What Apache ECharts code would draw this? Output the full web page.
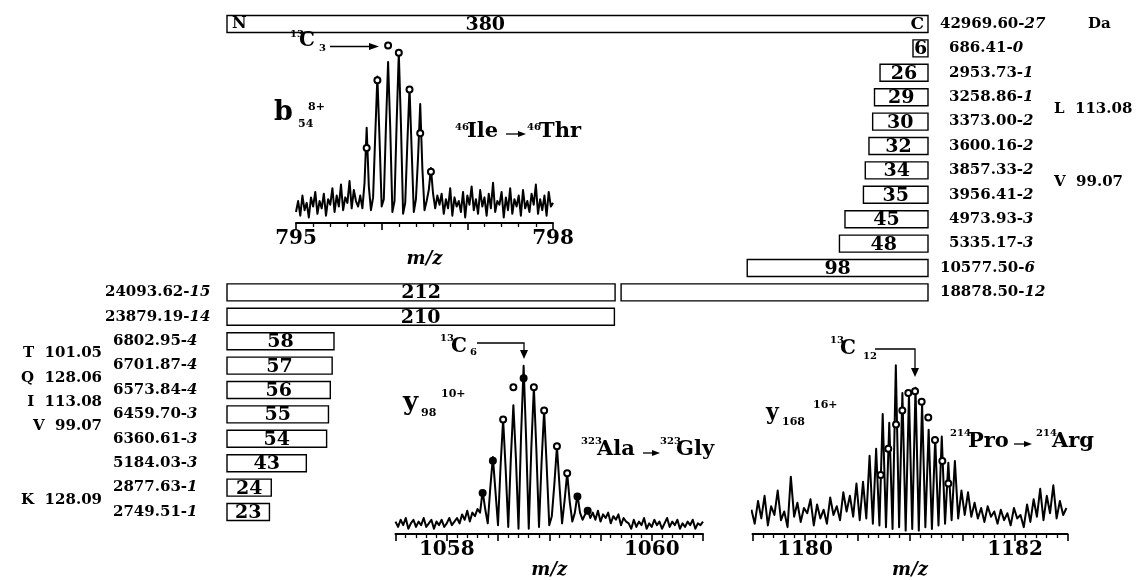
<!DOCTYPE html>
<html>
<head>
<meta charset="utf-8">
<title>fragment map</title>
<script src="https://cdn.jsdelivr.net/npm/echarts@6/dist/echarts.min.js"></script>
<style>
  body { margin: 0; background: #fff; }
  #main { width: 1145px; height: 580px; }
</style>
</head>
<body>
<div id="main"></div>
<script>
// ---- fragment map (residue counts from N- or C-terminus) ----
const totalResidues = 380
const fragLength = [380, 6, 26, 29, 30, 32, 34, 35, 45, 48, 98, 212, 168, 210, 58, 57, 56, 55, 54, 43, 24, 23]
const fragRow    = [0, 1, 2, 3, 4, 5, 6, 7, 8, 9, 10, 11, 11, 12, 13, 14, 15, 16, 17, 18, 19, 20]
const fragTerm   = ['NC', 'C', 'C', 'C', 'C', 'C', 'C', 'C', 'C', 'C', 'C', 'N', 'C', 'N', 'N', 'N', 'N', 'N', 'N', 'N', 'N', 'N']
const fragLabel  = ['380', '6', '26', '29', '30', '32', '34', '35', '45', '48', '98', '212', '', '210', '58', '57', '56', '55', '54', '43', '24', '23']
const fragMass   = ['42969.60', '686.41', '2953.73', '3258.86', '3373.00', '3600.16', '3857.33', '3956.41', '4973.93', '5335.17',
                    '10577.50', '24093.62', '18878.50', '23879.19', '6802.95', '6701.87', '6573.84', '6459.70', '6360.61', '5184.03', '2877.63', '2749.51']
const fragMiss   = ['27', '0', '1', '1', '2', '2', '2', '2', '3', '3', '6', '15', '12', '14', '4', '4', '4', '3', '3', '3', '1', '1']

// residue mass differences between neighbouring fragments
const diffText = ['L  113.08', 'V  99.07', 'T  101.05', 'Q  128.06', 'I  113.08', 'V  99.07', 'K  128.09']
const diffSide = ['C', 'C', 'N', 'N', 'N', 'N', 'N']
const diffRow  = [3.5, 6.5, 13.5, 14.5, 15.5, 16.5, 19.5]

// ---- b54 8+ spectrum ----
const b54Start = 795, b54Step = 0.025
const b54Int = [
  6, 12, 4, 15, 7, 11, 3, 14, 9, 17, 5, 12, 8, 16, 4, 13, 10, 19, 6, 15, 9, 21, 7, 14, 11, 23, 8, 18, 12,
  9, 15, 8, 22, 52, 20, 7, 14, 48, 80, 46, 9, 13, 53, 88, 52, 6, 12, 55, 93, 54, 5, 11, 44, 74, 40, 6, 13, 36, 65, 30, 7, 12, 18, 30, 16, 8, 15, 10,
  16, 5, 13, 8, 19, 4, 14, 9, 12, 6, 17, 3, 15, 10, 20, 7, 13, 5, 18, 9, 14, 4, 16, 8, 22, 6, 12, 10, 17, 3, 14, 7, 19, 5, 13, 9, 15, 4, 18, 8, 12, 6, 16, 10, 21, 5, 13, 7, 15, 4, 17, 9, 11
]
const b54IsoMz  = [795.825, 795.95, 796.075, 796.2, 796.325, 796.45, 796.575]
const b54IsoInt = [41, 78, 97, 93, 73, 49, 28]
const b54Ticks  = [795, 798]

// ---- y98 10+ spectrum ----
const y98Start = 1057.5, y98Step = 0.025
const y98Int = [
  7, 4, 8, 5, 9, 3, 6, 8, 4, 7, 5, 9, 4, 6, 8, 3, 7, 5, 8, 4, 6, 9, 5, 7,
  9, 6, 11, 8, 13, 7, 12, 10, 14,
  12, 24, 14, 6, 26, 43, 24, 5, 38, 64, 36, 4, 42, 72, 42, 3, 55, 94, 52, 3, 48, 82, 46, 4, 40, 69, 38, 5, 10, 28, 49, 27, 6, 19, 34, 18, 7, 12, 22, 12, 8, 11, 14, 9,
  12, 8, 13, 7, 11, 9, 12, 6, 10, 8, 11, 5, 9, 7,
  6, 3, 8, 4, 7, 5, 9, 3, 6, 4, 8, 5, 7, 3, 6, 9, 4, 7, 5, 8, 3, 6, 4, 7, 5, 8, 3, 6, 5, 7
]
const y98IsoMz   = [1058.35, 1058.45, 1058.55, 1058.65, 1058.75, 1058.85, 1058.95, 1059.075, 1059.175, 1059.275, 1059.375]
const y98IsoInt  = [23, 41, 64, 82, 87, 82, 69, 49, 34, 21, 13]
const y98IsoFill = [1, 1, 0, 0, 1, 0, 0, 0, 0, 1, 1]
const y98Ticks   = [1058, 1060]

// ---- y168 16+ spectrum ----
const y168Start = 1179.49, y168Step = 0.03125
const y168Int = [
  14, 6, 19, 9, 22, 5, 16, 11, 25, 8, 13, 4, 33, 10, 18, 7, 15, 12, 20, 5, 17, 9, 14, 6, 21, 11, 16, 8, 24, 13,
  22, 10, 29, 8, 30, 9, 45, 6, 49, 5, 69, 4, 64, 3, 97, 4, 81, 2, 80, 3, 84, 2, 75, 4, 60, 3, 55, 5, 56, 6, 41, 8, 42, 9, 25, 11, 24, 10,
  18, 9, 15, 7, 16, 10, 13, 6, 14, 8, 12, 5, 15, 9, 11, 4, 17, 7, 20, 10, 26, 8, 22, 12, 28, 9, 19, 11, 15
]
const y168IsoMz  = [1180.721, 1180.793, 1180.867, 1180.927, 1180.984, 1181.048, 1181.111, 1181.174, 1181.238, 1181.308, 1181.365]
const y168IsoInt = [34, 49, 63, 71, 81, 82, 76, 67, 54, 42, 29]
const y168Ticks  = [1180, 1182]

const FONT = 'DejaVu Serif'

function label(x, y, text, size, align, extra) {
  return {
    type: 'text', x: x, y: y, z: 100, silent: true,
    style: Object.assign({
      text: text, fill: '#000', fontFamily: FONT, fontWeight: 'bold', fontSize: size,
      align: align || 'left', verticalAlign: 'middle'
    }, extra || {})
  }
}
function stroke(points) {
  return { type: 'polyline', z: 100, silent: true, shape: { points: points }, style: { stroke: '#000', lineWidth: 1.3, fill: null } }
}
function head(points) {
  return { type: 'polygon', z: 100, silent: true, shape: { points: points }, style: { fill: '#000' } }
}

const sharedRows = new Set(fragRow.filter((r, i) => fragRow.indexOf(r) !== i))

function renderFragment(params, api) {
  const i = params.dataIndex
  const len = api.value(0), row = api.value(1), term = fragTerm[i]
  const start = term === 'C' ? totalResidues - len : 0
  const a = api.coord([start, row]), b = api.coord([start + len, row])
  let x0 = a[0], x1 = b[0]
  const y = a[1], h = 17
  if (x1 - x0 < 15) x0 = x1 - 15   // smallest box still holds its number
  if (sharedRows.has(row)) { if (term === 'N') x1 -= 3; else x0 += 3 }

  const kids = [{
    type: 'rect', shape: { x: x0, y: y - h / 2, width: x1 - x0, height: h },
    style: { fill: '#fff', stroke: '#000', lineWidth: 1.4 }
  }]
  let lx = (x0 + x1) / 2
  if (term === 'NC') lx = api.coord([140, row])[0]
  if (fragLabel[i]) kids.push(label(lx, y + 1, fragLabel[i], 19, 'center'))
  if (term === 'NC') {
    kids.push(label(x0 + 5, y, 'N', 16, 'left'))
    kids.push(label(x1 - 4, y + 1, 'C', 17, 'right'))
  }

  // mass and missed cleavages
  const big = parseFloat(fragMass[i]) >= 10000
  const mx = term === 'N' ? x0 - 114 - (big ? 8 : 0) : x1 + 12 + (big ? 0 : 9)
  kids.push({
    type: 'text', x: mx, y: y, silent: true,
    style: {
      text: '{m|' + fragMass[i] + '-}{i|' + fragMiss[i] + '}',
      align: 'left', verticalAlign: 'middle',
      rich: {
        m: { fontFamily: FONT, fontWeight: 'bold', fontSize: 15, fill: '#000' },
        i: { fontFamily: FONT, fontWeight: 'bold', fontStyle: 'italic', fontSize: 15, fill: '#000' }
      }
    }
  })
  if (term === 'NC') kids.push(label(x1 + 160, y, 'Da', 15, 'left'))
  return { type: 'group', children: kids }
}

function renderDiff(params, api) {
  const i = params.dataIndex
  const y = api.coord([0, api.value(1)])[1]
  const left = diffSide[i] === 'N'
  const x = left ? api.coord([0, 0])[0] - 125 : api.coord([totalResidues, 0])[0] + 126
  return label(x, y, diffText[i], 15, left ? 'right' : 'left')
}

function specX(grid, min, max, interval, shown, nameGap) {
  return {
    gridIndex: grid, type: 'value', min: min, max: max, interval: interval,
    axisLine: { onZero: false, lineStyle: { color: '#000', width: 2 } },
    axisTick: { length: 7, lineStyle: { color: '#000', width: 1.6 } },
    minorTick: { show: true, splitNumber: 5, length: 4, lineStyle: { color: '#000', width: 1.3 } },
    splitLine: { show: false }, minorSplitLine: { show: false },
    axisLabel: {
      margin: 6, color: '#000', fontFamily: FONT, fontWeight: 'bold', fontSize: 20,
      showMinLabel: true, showMaxLabel: true,
      formatter: v => shown.some(s => Math.abs(s - v) < 1e-6) ? String(Math.round(v)) : ''
    },
    name: 'm/z', nameLocation: 'middle', nameGap: nameGap,
    nameTextStyle: { color: '#000', fontFamily: FONT, fontWeight: 'bold', fontStyle: 'italic', fontSize: 18 }
  }
}
function specY(grid) {
  return { gridIndex: grid, type: 'value', min: 0, max: 100, show: false }
}
function specLine(grid, start, step, values) {
  return {
    type: 'line', xAxisIndex: grid, yAxisIndex: grid, symbol: 'none',
    data: values.map((v, i) => [start + i * step, v]),
    lineStyle: { color: '#000', width: 2, join: 'round' }, z: 2
  }
}
function isoMarks(grid, mz, inten, filled) {
  return {
    type: 'scatter', xAxisIndex: grid, yAxisIndex: grid, symbolSize: 6, z: 3,
    data: mz.map((m, i) => ({ value: [m, inten[i]], symbol: filled && filled[i] ? 'circle' : 'emptyCircle' })),
    itemStyle: { color: '#000', borderColor: '#000', borderWidth: 2, opacity: 1 }
  }
}

const notes = [
  // b54 8+
  label(290, 34, '13', 10), label(299, 41, 'C', 20), label(319, 48, '3', 10),
  stroke([[330, 46.5], [372, 46.5]]), head([[369, 43], [379, 46.5], [369, 50]]),
  label(274, 113, 'b', 27), label(298, 124, '54', 11), label(308, 107, '8+', 11),
  label(455, 127, '46', 10), label(467, 132, 'Ile', 21),
  stroke([[506, 134], [520, 134]]), head([[518, 131], [526, 134], [518, 137]]),
  label(527, 127, '46', 10), label(539, 132, 'Thr', 21),
  // y98 10+
  label(440, 338, '13', 10), label(451, 347, 'C', 20), label(470, 352, '6', 10),
  stroke([[477, 343], [524, 343], [524, 352]]), head([[520, 350], [524, 359], [528, 350]]),
  label(403, 403, 'y', 26), label(421, 413, '98', 11), label(441, 394, '10+', 11),
  label(581, 441, '323', 10), label(597, 450, 'Ala', 21),
  stroke([[643, 453], [654, 453]]), head([[652, 450], [660, 453], [652, 456]]),
  label(660, 441, '323', 10), label(676, 450, 'Gly', 21),
  // y168 16+
  label(830, 340, '13', 10), label(840, 349, 'C', 20), label(863, 356, '12', 10),
  stroke([[875, 349], [915, 349], [915, 369]]), head([[911, 368], [915, 377], [919, 368]]),
  label(766, 413, 'y', 22), label(782, 422, '168', 11), label(813, 405, '16+', 11),
  label(950, 433, '214', 10), label(968, 442, 'Pro', 21),
  stroke([[1014, 444], [1026, 444]]), head([[1024, 441], [1032, 444], [1024, 447]]),
  label(1036, 433, '214', 10), label(1052, 442, 'Arg', 21)
]

const chart = echarts.init(document.getElementById('main'))
chart.setOption({
  backgroundColor: '#fff',
  animation: false,
  grid: [
    { left: 227, top: 24, width: 701, height: 488 },
    { left: 296, top: 40, width: 257, height: 183 },
    { left: 395.5, top: 355, width: 307.5, height: 182 },
    { left: 752.5, top: 360, width: 315, height: 181 }
  ],
  xAxis: [
    { gridIndex: 0, type: 'value', min: 0, max: totalResidues, show: false },
    specX(1, 795, 798, 1, b54Ticks, 20),
    specX(2, 1057.5, 1060.5, 0.5, y98Ticks, 24),
    specX(3, 1179.5, 1182.5, 0.5, y168Ticks, 22)
  ],
  yAxis: [
    { gridIndex: 0, type: 'value', min: 0, max: 20, inverse: true, show: false },
    specY(1), specY(2), specY(3)
  ],
  series: [
    {
      type: 'custom', xAxisIndex: 0, yAxisIndex: 0, renderItem: renderFragment,
      data: fragLength.map((len, i) => [len, fragRow[i]])
    },
    {
      type: 'custom', xAxisIndex: 0, yAxisIndex: 0, renderItem: renderDiff,
      data: diffRow.map(r => [0, r])
    },
    specLine(1, b54Start, b54Step, b54Int),
    isoMarks(1, b54IsoMz, b54IsoInt),
    specLine(2, y98Start, y98Step, y98Int),
    isoMarks(2, y98IsoMz, y98IsoInt, y98IsoFill),
    specLine(3, y168Start, y168Step, y168Int),
    isoMarks(3, y168IsoMz, y168IsoInt)
  ],
  graphic: notes
})
</script>
</body>
</html>
